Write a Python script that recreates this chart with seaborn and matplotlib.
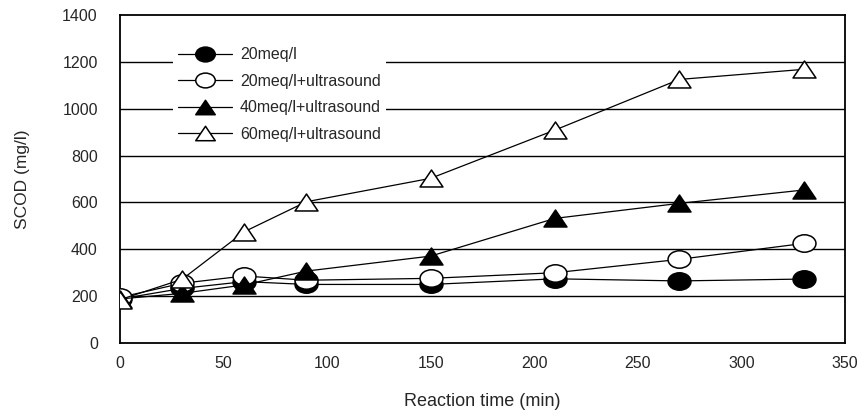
import numpy as np
import pandas as pd
import matplotlib
matplotlib.use("Agg")
import matplotlib.pyplot as plt
from matplotlib.path import Path
from matplotlib.transforms import Affine2D
import seaborn as sns

time_min = [0, 30, 60, 90, 150, 210, 270, 330]
series_labels = ["20meq/l", "20meq/l+ultrasound", "40meq/l+ultrasound", "60meq/l+ultrasound"]
scod_20 = [188, 233, 262, 250, 250, 274, 265, 273]
scod_20_us = [195, 255, 286, 268, 276, 300, 357, 425]
scod_40_us = [188, 212, 248, 307, 371, 532, 596, 653]
scod_60_us = [185, 272, 475, 603, 703, 909, 1125, 1168]
x_ticks = [0, 50, 100, 150, 200, 250, 300, 350]
y_ticks = [0, 200, 400, 600, 800, 1000, 1200, 1400]

sns.set_style("white")
plt.rcParams["font.family"] = ["Liberation Sans", "DejaVu Sans"]

ellipse = Path.unit_circle().transformed(Affine2D().scale(1.0, 0.76))
tri = Path([(0, 0.74), (-1, -0.74), (1, -0.74), (0, 0.74)],
           [Path.MOVETO, Path.LINETO, Path.LINETO, Path.CLOSEPOLY])

fig = plt.figure(figsize=(8.65, 4.18), dpi=100)
ax = fig.add_axes([0.1387, 0.1794, 0.8382, 0.7847])

styles = [
    (scod_20, ellipse, "black"),
    (scod_20_us, ellipse, "white"),
    (scod_40_us, tri, "black"),
    (scod_60_us, tri, "white"),
]
for i, (vals, mk, fc) in enumerate(styles):
    df = pd.DataFrame({"t": time_min, "v": vals})
    sns.lineplot(data=df, x="t", y="v", ax=ax, color="black", linewidth=0.9,
                 marker=mk, markersize=16.5, markerfacecolor=fc,
                 markeredgecolor="black", markeredgewidth=1.1,
                 label=series_labels[i], zorder=3 + i)

ax.set_xlim(0, 350)
ax.set_ylim(0, 1400)
ax.set_xticks(x_ticks)
ax.set_yticks(y_ticks)
ax.set_xticklabels([str(v) for v in x_ticks])
ax.set_yticklabels([str(v) for v in y_ticks])
for yv in y_ticks[1:-1]:
    ax.axhline(yv, color="black", linewidth=1.0, zorder=1)
ax.tick_params(axis="x", direction="in", length=6, width=1, pad=9, labelsize=11.5, color="black")
ax.tick_params(axis="y", length=0, pad=16, labelsize=11.5)
for s in ax.spines.values():
    s.set_color("black")
    s.set_linewidth(1.3)
ax.set_xlabel("Reaction time (min)", fontsize=13, labelpad=16)
ax.set_ylabel("SCOD (mg/l)", fontsize=12.5, labelpad=23)

leg = ax.legend(loc="upper left", bbox_to_anchor=(0.062, 0.94), frameon=True,
                fontsize=11.5, markerscale=0.85, handlelength=3.4, handletextpad=0.5,
                labelspacing=0.72, borderpad=0.3, fancybox=False)
leg.get_frame().set_edgecolor("none")
leg.get_frame().set_facecolor("white")
leg.get_frame().set_alpha(1.0)
leg.set_zorder(10)

fig.savefig("out.png", dpi=100)
